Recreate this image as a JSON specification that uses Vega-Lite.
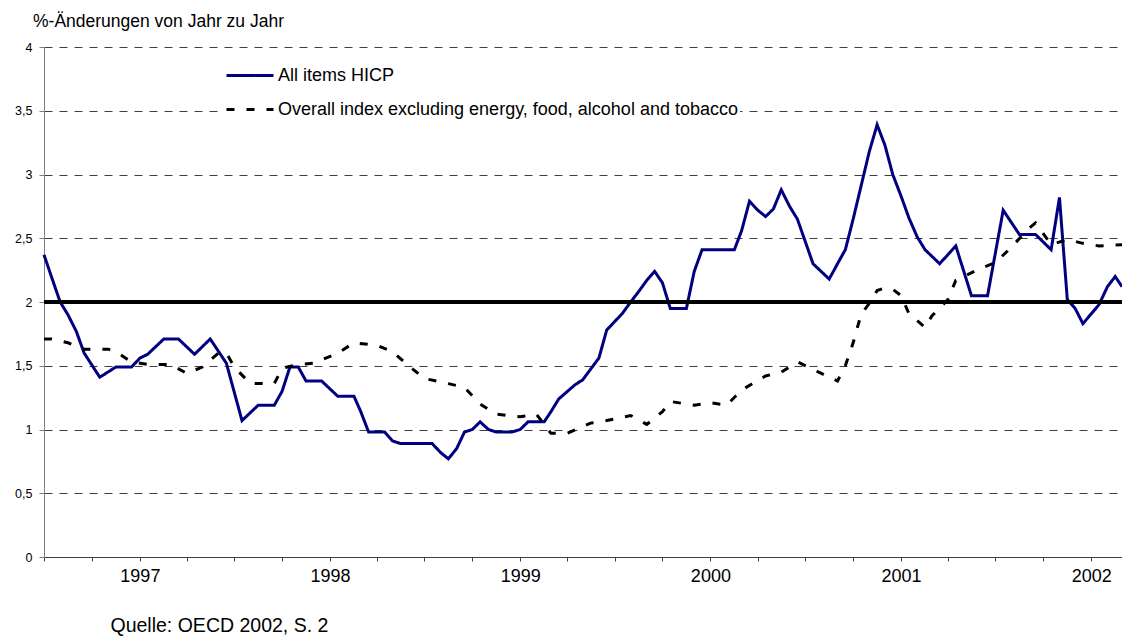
{
  "$schema": "https://vega.github.io/schema/vega-lite/v6.json",
  "width": 1078,
  "height": 510,
  "autosize": {"type": "none"},
  "padding": {"left": 44, "top": 47, "right": 0, "bottom": 82},
  "background": "white",
  "config": {
    "font": "Liberation Sans",
    "view": {"stroke": null}
  },
  "title": {
    "text": "%-Änderungen von Jahr zu Jahr",
    "anchor": "start",
    "frame": "group",
    "dx": -11,
    "offset": 11,
    "fontSize": 17.5,
    "fontWeight": "normal",
    "color": "black",
    "font": "Liberation Sans"
  },
  "data": {
    "format": {"parse": {"d": "date:'%Y-%m-%d'"}},
    "values": [
      {"s": "All items HICP", "d": "1996-07-01", "v": 2.37},
      {"s": "All items HICP", "d": "1996-07-16", "v": 2.19},
      {"s": "All items HICP", "d": "1996-08-01", "v": 2.00},
      {"s": "All items HICP", "d": "1996-08-16", "v": 1.90},
      {"s": "All items HICP", "d": "1996-09-01", "v": 1.77},
      {"s": "All items HICP", "d": "1996-09-16", "v": 1.60},
      {"s": "All items HICP", "d": "1996-10-16", "v": 1.41},
      {"s": "All items HICP", "d": "1996-11-16", "v": 1.49},
      {"s": "All items HICP", "d": "1996-12-16", "v": 1.49},
      {"s": "All items HICP", "d": "1997-01-01", "v": 1.56},
      {"s": "All items HICP", "d": "1997-01-16", "v": 1.59},
      {"s": "All items HICP", "d": "1997-02-16", "v": 1.71},
      {"s": "All items HICP", "d": "1997-03-16", "v": 1.71},
      {"s": "All items HICP", "d": "1997-04-16", "v": 1.59},
      {"s": "All items HICP", "d": "1997-05-16", "v": 1.71},
      {"s": "All items HICP", "d": "1997-06-16", "v": 1.52},
      {"s": "All items HICP", "d": "1997-07-16", "v": 1.07},
      {"s": "All items HICP", "d": "1997-08-16", "v": 1.19},
      {"s": "All items HICP", "d": "1997-09-16", "v": 1.19},
      {"s": "All items HICP", "d": "1997-10-01", "v": 1.30},
      {"s": "All items HICP", "d": "1997-10-16", "v": 1.49},
      {"s": "All items HICP", "d": "1997-11-01", "v": 1.49},
      {"s": "All items HICP", "d": "1997-11-16", "v": 1.38},
      {"s": "All items HICP", "d": "1997-12-16", "v": 1.38},
      {"s": "All items HICP", "d": "1998-01-16", "v": 1.26},
      {"s": "All items HICP", "d": "1998-02-16", "v": 1.26},
      {"s": "All items HICP", "d": "1998-03-01", "v": 1.14},
      {"s": "All items HICP", "d": "1998-03-16", "v": 0.98},
      {"s": "All items HICP", "d": "1998-04-16", "v": 0.98},
      {"s": "All items HICP", "d": "1998-05-01", "v": 0.91},
      {"s": "All items HICP", "d": "1998-05-16", "v": 0.89},
      {"s": "All items HICP", "d": "1998-07-16", "v": 0.89},
      {"s": "All items HICP", "d": "1998-08-01", "v": 0.82},
      {"s": "All items HICP", "d": "1998-08-16", "v": 0.77},
      {"s": "All items HICP", "d": "1998-09-01", "v": 0.85},
      {"s": "All items HICP", "d": "1998-09-16", "v": 0.98},
      {"s": "All items HICP", "d": "1998-10-01", "v": 1.00},
      {"s": "All items HICP", "d": "1998-10-16", "v": 1.06},
      {"s": "All items HICP", "d": "1998-11-01", "v": 1.00},
      {"s": "All items HICP", "d": "1998-11-16", "v": 0.98},
      {"s": "All items HICP", "d": "1998-12-16", "v": 0.98},
      {"s": "All items HICP", "d": "1999-01-01", "v": 1.00},
      {"s": "All items HICP", "d": "1999-01-16", "v": 1.06},
      {"s": "All items HICP", "d": "1999-02-16", "v": 1.06},
      {"s": "All items HICP", "d": "1999-03-01", "v": 1.14},
      {"s": "All items HICP", "d": "1999-03-16", "v": 1.24},
      {"s": "All items HICP", "d": "1999-04-16", "v": 1.35},
      {"s": "All items HICP", "d": "1999-05-01", "v": 1.39},
      {"s": "All items HICP", "d": "1999-06-01", "v": 1.56},
      {"s": "All items HICP", "d": "1999-06-16", "v": 1.78},
      {"s": "All items HICP", "d": "1999-07-16", "v": 1.91},
      {"s": "All items HICP", "d": "1999-08-01", "v": 2.00},
      {"s": "All items HICP", "d": "1999-08-16", "v": 2.08},
      {"s": "All items HICP", "d": "1999-09-01", "v": 2.17},
      {"s": "All items HICP", "d": "1999-09-16", "v": 2.24},
      {"s": "All items HICP", "d": "1999-10-01", "v": 2.15},
      {"s": "All items HICP", "d": "1999-10-16", "v": 1.95},
      {"s": "All items HICP", "d": "1999-11-16", "v": 1.95},
      {"s": "All items HICP", "d": "1999-12-01", "v": 2.24},
      {"s": "All items HICP", "d": "1999-12-16", "v": 2.41},
      {"s": "All items HICP", "d": "2000-02-16", "v": 2.41},
      {"s": "All items HICP", "d": "2000-03-01", "v": 2.56},
      {"s": "All items HICP", "d": "2000-03-16", "v": 2.79},
      {"s": "All items HICP", "d": "2000-04-01", "v": 2.72},
      {"s": "All items HICP", "d": "2000-04-16", "v": 2.67},
      {"s": "All items HICP", "d": "2000-05-01", "v": 2.73},
      {"s": "All items HICP", "d": "2000-05-16", "v": 2.88},
      {"s": "All items HICP", "d": "2000-06-01", "v": 2.75},
      {"s": "All items HICP", "d": "2000-06-16", "v": 2.65},
      {"s": "All items HICP", "d": "2000-07-16", "v": 2.30},
      {"s": "All items HICP", "d": "2000-08-16", "v": 2.18},
      {"s": "All items HICP", "d": "2000-09-01", "v": 2.30},
      {"s": "All items HICP", "d": "2000-09-16", "v": 2.41},
      {"s": "All items HICP", "d": "2000-10-01", "v": 2.65},
      {"s": "All items HICP", "d": "2000-11-01", "v": 3.18},
      {"s": "All items HICP", "d": "2000-11-16", "v": 3.39},
      {"s": "All items HICP", "d": "2000-12-01", "v": 3.23},
      {"s": "All items HICP", "d": "2000-12-16", "v": 3.00},
      {"s": "All items HICP", "d": "2001-01-01", "v": 2.83},
      {"s": "All items HICP", "d": "2001-01-16", "v": 2.66},
      {"s": "All items HICP", "d": "2001-02-01", "v": 2.51},
      {"s": "All items HICP", "d": "2001-02-16", "v": 2.41},
      {"s": "All items HICP", "d": "2001-03-16", "v": 2.30},
      {"s": "All items HICP", "d": "2001-04-16", "v": 2.44},
      {"s": "All items HICP", "d": "2001-05-16", "v": 2.05},
      {"s": "All items HICP", "d": "2001-06-16", "v": 2.05},
      {"s": "All items HICP", "d": "2001-07-16", "v": 2.72},
      {"s": "All items HICP", "d": "2001-08-16", "v": 2.53},
      {"s": "All items HICP", "d": "2001-09-16", "v": 2.53},
      {"s": "All items HICP", "d": "2001-10-16", "v": 2.41},
      {"s": "All items HICP", "d": "2001-11-01", "v": 2.82},
      {"s": "All items HICP", "d": "2001-11-16", "v": 2.02},
      {"s": "All items HICP", "d": "2001-12-01", "v": 1.95},
      {"s": "All items HICP", "d": "2001-12-16", "v": 1.83},
      {"s": "All items HICP", "d": "2002-01-16", "v": 1.98},
      {"s": "All items HICP", "d": "2002-02-01", "v": 2.12},
      {"s": "All items HICP", "d": "2002-02-16", "v": 2.20},
      {"s": "All items HICP", "d": "2002-03-01", "v": 2.12},
      {"s": "Overall index excluding energy, food, alcohol and tobacco", "d": "1996-07-01", "v": 1.71},
      {"s": "Overall index excluding energy, food, alcohol and tobacco", "d": "1996-07-16", "v": 1.71},
      {"s": "Overall index excluding energy, food, alcohol and tobacco", "d": "1996-08-16", "v": 1.68},
      {"s": "Overall index excluding energy, food, alcohol and tobacco", "d": "1996-09-16", "v": 1.63},
      {"s": "Overall index excluding energy, food, alcohol and tobacco", "d": "1996-10-01", "v": 1.63},
      {"s": "Overall index excluding energy, food, alcohol and tobacco", "d": "1996-11-01", "v": 1.63},
      {"s": "Overall index excluding energy, food, alcohol and tobacco", "d": "1996-11-16", "v": 1.61},
      {"s": "Overall index excluding energy, food, alcohol and tobacco", "d": "1996-12-16", "v": 1.53},
      {"s": "Overall index excluding energy, food, alcohol and tobacco", "d": "1997-01-16", "v": 1.51},
      {"s": "Overall index excluding energy, food, alcohol and tobacco", "d": "1997-03-01", "v": 1.51},
      {"s": "Overall index excluding energy, food, alcohol and tobacco", "d": "1997-04-01", "v": 1.44},
      {"s": "Overall index excluding energy, food, alcohol and tobacco", "d": "1997-05-01", "v": 1.49},
      {"s": "Overall index excluding energy, food, alcohol and tobacco", "d": "1997-06-01", "v": 1.60},
      {"s": "Overall index excluding energy, food, alcohol and tobacco", "d": "1997-06-16", "v": 1.60},
      {"s": "Overall index excluding energy, food, alcohol and tobacco", "d": "1997-07-01", "v": 1.49},
      {"s": "Overall index excluding energy, food, alcohol and tobacco", "d": "1997-08-01", "v": 1.36},
      {"s": "Overall index excluding energy, food, alcohol and tobacco", "d": "1997-09-16", "v": 1.36},
      {"s": "Overall index excluding energy, food, alcohol and tobacco", "d": "1997-10-01", "v": 1.48},
      {"s": "Overall index excluding energy, food, alcohol and tobacco", "d": "1997-11-01", "v": 1.51},
      {"s": "Overall index excluding energy, food, alcohol and tobacco", "d": "1997-12-01", "v": 1.52},
      {"s": "Overall index excluding energy, food, alcohol and tobacco", "d": "1998-01-16", "v": 1.60},
      {"s": "Overall index excluding energy, food, alcohol and tobacco", "d": "1998-02-16", "v": 1.68},
      {"s": "Overall index excluding energy, food, alcohol and tobacco", "d": "1998-04-01", "v": 1.66},
      {"s": "Overall index excluding energy, food, alcohol and tobacco", "d": "1998-05-01", "v": 1.61},
      {"s": "Overall index excluding energy, food, alcohol and tobacco", "d": "1998-06-01", "v": 1.50},
      {"s": "Overall index excluding energy, food, alcohol and tobacco", "d": "1998-07-01", "v": 1.40},
      {"s": "Overall index excluding energy, food, alcohol and tobacco", "d": "1998-08-16", "v": 1.36},
      {"s": "Overall index excluding energy, food, alcohol and tobacco", "d": "1998-09-16", "v": 1.33},
      {"s": "Overall index excluding energy, food, alcohol and tobacco", "d": "1998-10-16", "v": 1.20},
      {"s": "Overall index excluding energy, food, alcohol and tobacco", "d": "1998-11-16", "v": 1.12},
      {"s": "Overall index excluding energy, food, alcohol and tobacco", "d": "1999-01-01", "v": 1.10},
      {"s": "Overall index excluding energy, food, alcohol and tobacco", "d": "1999-02-01", "v": 1.12},
      {"s": "Overall index excluding energy, food, alcohol and tobacco", "d": "1999-03-01", "v": 0.97},
      {"s": "Overall index excluding energy, food, alcohol and tobacco", "d": "1999-04-01", "v": 0.97},
      {"s": "Overall index excluding energy, food, alcohol and tobacco", "d": "1999-05-16", "v": 1.05},
      {"s": "Overall index excluding energy, food, alcohol and tobacco", "d": "1999-06-16", "v": 1.07},
      {"s": "Overall index excluding energy, food, alcohol and tobacco", "d": "1999-08-01", "v": 1.11},
      {"s": "Overall index excluding energy, food, alcohol and tobacco", "d": "1999-09-01", "v": 1.04},
      {"s": "Overall index excluding energy, food, alcohol and tobacco", "d": "1999-10-01", "v": 1.14},
      {"s": "Overall index excluding energy, food, alcohol and tobacco", "d": "1999-10-16", "v": 1.22},
      {"s": "Overall index excluding energy, food, alcohol and tobacco", "d": "1999-12-01", "v": 1.19},
      {"s": "Overall index excluding energy, food, alcohol and tobacco", "d": "2000-01-01", "v": 1.21},
      {"s": "Overall index excluding energy, food, alcohol and tobacco", "d": "2000-02-01", "v": 1.19},
      {"s": "Overall index excluding energy, food, alcohol and tobacco", "d": "2000-03-01", "v": 1.31},
      {"s": "Overall index excluding energy, food, alcohol and tobacco", "d": "2000-04-16", "v": 1.42},
      {"s": "Overall index excluding energy, food, alcohol and tobacco", "d": "2000-05-16", "v": 1.45},
      {"s": "Overall index excluding energy, food, alcohol and tobacco", "d": "2000-06-16", "v": 1.53},
      {"s": "Overall index excluding energy, food, alcohol and tobacco", "d": "2000-08-01", "v": 1.44},
      {"s": "Overall index excluding energy, food, alcohol and tobacco", "d": "2000-09-01", "v": 1.38},
      {"s": "Overall index excluding energy, food, alcohol and tobacco", "d": "2000-09-16", "v": 1.50},
      {"s": "Overall index excluding energy, food, alcohol and tobacco", "d": "2000-10-01", "v": 1.68},
      {"s": "Overall index excluding energy, food, alcohol and tobacco", "d": "2000-10-16", "v": 1.90},
      {"s": "Overall index excluding energy, food, alcohol and tobacco", "d": "2000-11-01", "v": 1.99},
      {"s": "Overall index excluding energy, food, alcohol and tobacco", "d": "2000-11-16", "v": 2.09},
      {"s": "Overall index excluding energy, food, alcohol and tobacco", "d": "2000-12-01", "v": 2.11},
      {"s": "Overall index excluding energy, food, alcohol and tobacco", "d": "2000-12-16", "v": 2.10},
      {"s": "Overall index excluding energy, food, alcohol and tobacco", "d": "2001-01-01", "v": 2.05},
      {"s": "Overall index excluding energy, food, alcohol and tobacco", "d": "2001-01-16", "v": 1.91},
      {"s": "Overall index excluding energy, food, alcohol and tobacco", "d": "2001-02-16", "v": 1.80},
      {"s": "Overall index excluding energy, food, alcohol and tobacco", "d": "2001-03-01", "v": 1.89},
      {"s": "Overall index excluding energy, food, alcohol and tobacco", "d": "2001-04-01", "v": 2.02},
      {"s": "Overall index excluding energy, food, alcohol and tobacco", "d": "2001-04-16", "v": 2.17},
      {"s": "Overall index excluding energy, food, alcohol and tobacco", "d": "2001-06-01", "v": 2.26},
      {"s": "Overall index excluding energy, food, alcohol and tobacco", "d": "2001-07-01", "v": 2.31},
      {"s": "Overall index excluding energy, food, alcohol and tobacco", "d": "2001-08-01", "v": 2.43},
      {"s": "Overall index excluding energy, food, alcohol and tobacco", "d": "2001-09-01", "v": 2.57},
      {"s": "Overall index excluding energy, food, alcohol and tobacco", "d": "2001-09-16", "v": 2.62},
      {"s": "Overall index excluding energy, food, alcohol and tobacco", "d": "2001-10-16", "v": 2.45},
      {"s": "Overall index excluding energy, food, alcohol and tobacco", "d": "2001-11-16", "v": 2.49},
      {"s": "Overall index excluding energy, food, alcohol and tobacco", "d": "2001-12-16", "v": 2.46},
      {"s": "Overall index excluding energy, food, alcohol and tobacco", "d": "2002-01-16", "v": 2.44},
      {"s": "Overall index excluding energy, food, alcohol and tobacco", "d": "2002-03-01", "v": 2.45}
    ]
  },
  "layer": [
    {
      "mark": {"type": "line", "strokeWidth": 3, "strokeJoin": "miter", "strokeCap": "butt"},
      "encoding": {
        "x": {
          "field": "d",
          "type": "temporal",
          "scale": {"domain": [{"year": 1996, "month": 7, "date": 1}, {"year": 2002, "month": 3, "date": 1}]},
          "axis": {
            "title": "Quelle: OECD 2002, S. 2",
            "titleAnchor": "start",
            "titleX": 66,
            "titleY": 74,
            "titleBaseline": "alphabetic",
            "titleFontSize": 19.5,
            "titleFontWeight": "normal",
            "titleColor": "black",
            "titleFont": "Liberation Sans",
            "tickCount": {"interval": "month", "step": 3},
            "labelExpr": "month(datum.value) == 0 ? timeFormat(datum.value, '%Y') : ''",
            "labelFontSize": 18,
            "labelColor": "black",
            "labelPadding": 6,
            "labelOverlap": false,
            "labelFlush": false,
            "tickSize": 4,
            "tickColor": "#404040",
            "domainColor": "#404040",
            "grid": false
          }
        },
        "y": {
          "field": "v",
          "type": "quantitative",
          "scale": {"domain": [0, 4], "nice": false, "zero": true},
          "axis": {
            "title": null,
            "values": [0, 0.5, 1, 1.5, 2, 2.5, 3, 3.5, 4],
            "labelExpr": "replace(format(datum.value, '.1~f'), '.', ',')",
            "labelFontSize": 12.5,
            "labelColor": "black",
            "labelPadding": 7,
            "tickSize": 5,
            "tickColor": "#808080",
            "domainColor": "#808080",
            "grid": true,
            "gridColor": "#404040",
            "gridDash": [8, 7],
            "gridWidth": 1
          }
        },
        "color": {
          "field": "s",
          "type": "nominal",
          "scale": {
            "domain": ["All items HICP", "Overall index excluding energy, food, alcohol and tobacco"],
            "range": ["#000080", "#000000"]
          },
          "legend": {
            "title": null,
            "orient": "none",
            "legendX": 179,
            "legendY": 1.5,
            "symbolType": "stroke",
            "symbolSize": 2209,
            "symbolStrokeWidth": 3,
            "labelFontSize": 18,
            "labelFont": "Liberation Sans",
            "labelColor": "black",
            "labelOffset": 3,
            "labelLimit": 700,
            "fillColor": "white",
            "padding": 2,
            "rowPadding": -17
          }
        },
        "strokeDash": {
          "field": "s",
          "type": "nominal",
          "scale": {
            "domain": ["All items HICP", "Overall index excluding energy, food, alcohol and tobacco"],
            "range": [[1, 0], [8, 12]]
          },
          "legend": {
            "title": null,
            "orient": "none",
            "legendX": 179,
            "legendY": 1.5,
            "symbolType": "stroke",
            "symbolSize": 2209,
            "symbolStrokeWidth": 3,
            "labelFontSize": 18,
            "labelFont": "Liberation Sans",
            "labelColor": "black",
            "labelOffset": 3,
            "labelLimit": 700,
            "fillColor": "white",
            "padding": 2,
            "rowPadding": -17
          }
        }
      }
    },
    {
      "mark": {"type": "rule", "color": "black", "strokeWidth": 4},
      "encoding": {"y": {"datum": 2}}
    }
  ]
}
